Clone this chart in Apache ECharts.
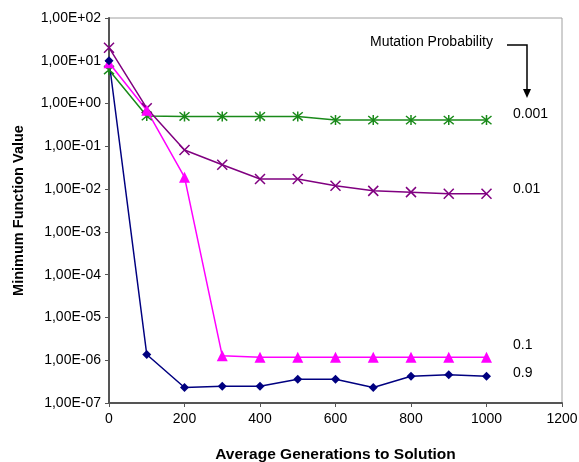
<!DOCTYPE html>
<html>
<head>
<meta charset="utf-8">
<script src="https://cdn.jsdelivr.net/npm/echarts@6/dist/echarts.min.js"></script>
<style>
  html, body { margin: 0; padding: 0; background: #fff; }
  #chart { width: 579px; height: 462px; }
</style>
</head>
<body>
<div id="chart"></div>
<script>
// generations (x)
var generations = [0, 100, 200, 300, 400, 500, 600, 700, 800, 900, 1000];

// minimum function value per mutation probability
var p0001 = [6.1, 0.51, 0.5, 0.5, 0.5, 0.5, 0.41, 0.41, 0.41, 0.41, 0.41];
var p001 = [20.2, 0.78, 0.082, 0.037, 0.0173, 0.0173, 0.012, 0.0091, 0.0085, 0.0078, 0.0078];
var p01 = [9, 0.7, 0.019, 1.27e-6, 1.17e-6, 1.17e-6, 1.17e-6, 1.17e-6, 1.17e-6, 1.17e-6, 1.17e-6];
var p09 = [10, 1.36e-6, 2.3e-7, 2.45e-7, 2.45e-7, 3.6e-7, 3.6e-7, 2.3e-7, 4.2e-7, 4.6e-7, 4.2e-7];

var xTicks = [0, 200, 400, 600, 800, 1000, 1200];

function pairs(ys) {
  return generations.map(function (g, i) { return [g, ys[i]]; });
}

function sciLabel(v) {
  var e = Math.round(Math.log10(v));
  var s = e < 0 ? '-' : '+';
  var a = Math.abs(e);
  return '1,00E' + s + (a < 10 ? '0' : '') + a;
}

var FONT = '"Liberation Sans", Arial, sans-serif';
var xMark = 'path://M0,0L10,10M10,0L0,10';
var starMark = 'path://M0,0L10,10M10,0L0,10M5,-1L5,11';

var chart = echarts.init(document.getElementById('chart'));
chart.setOption({
  animation: false,
  backgroundColor: '#fff',
  textStyle: { fontFamily: FONT },
  grid: {
    left: 109, right: 17, top: 18, bottom: 59,
    outerBoundsMode: 'none', containLabel: false,
    show: true, borderColor: '#a0a0a0', borderWidth: 1
  },
  xAxis: {
    type: 'value', min: 0, max: 1200, interval: 200,
    name: 'Average Generations to Solution',
    nameLocation: 'middle', nameGap: 44,
    nameTextStyle: { fontSize: 15.5, fontWeight: 'bold', color: '#000', fontFamily: FONT },
    axisLine: { show: true, lineStyle: { color: '#555', width: 2 } },
    axisTick: { show: true, length: 4, lineStyle: { color: '#555' } },
    axisLabel: { fontSize: 14, color: '#000', margin: 9, fontFamily: FONT,
      formatter: function (v) { return xTicks.indexOf(v) >= 0 ? String(v) : ''; } },
    splitLine: { show: false }
  },
  yAxis: {
    type: 'log', logBase: 10, min: 1e-7, max: 1e2,
    name: 'Minimum Function Value',
    nameLocation: 'middle', nameGap: 83,
    nameTextStyle: { fontSize: 14.5, fontWeight: 'bold', color: '#000', fontFamily: FONT },
    axisLine: { show: true, lineStyle: { color: '#555', width: 2 } },
    axisTick: { show: true, length: 4, lineStyle: { color: '#555' } },
    axisLabel: { fontSize: 14, color: '#000', margin: 8, fontFamily: FONT, formatter: sciLabel },
    splitLine: { show: false }
  },
  series: [
    {
      name: '0.001', type: 'line', data: pairs(p0001),
      symbol: starMark, symbolSize: 10,
      lineStyle: { color: '#1a8a1a', width: 1.5 },
      itemStyle: { color: '#1a8a1a', borderColor: '#1a8a1a', borderWidth: 1.5 }
    },
    {
      name: '0.01', type: 'line', data: pairs(p001),
      symbol: xMark, symbolSize: 10,
      lineStyle: { color: '#800080', width: 1.5 },
      itemStyle: { color: '#800080', borderColor: '#800080', borderWidth: 1.5 }
    },
    {
      name: '0.1', type: 'line', data: pairs(p01),
      symbol: 'triangle', symbolSize: 11,
      lineStyle: { color: '#ff00ff', width: 1.5 },
      itemStyle: { color: '#ff00ff' }
    },
    {
      name: '0.9', type: 'line', data: pairs(p09),
      symbol: 'diamond', symbolSize: 9,
      lineStyle: { color: '#000080', width: 1.5 },
      itemStyle: { color: '#000080' }
    }
  ],
  graphic: [
    { type: 'text', left: 513, top: 107, style: { text: '0.001', font: '14px ' + FONT, fill: '#000' } },
    { type: 'text', left: 513, top: 182, style: { text: '0.01', font: '14px ' + FONT, fill: '#000' } },
    { type: 'text', left: 513, top: 338, style: { text: '0.1', font: '14px ' + FONT, fill: '#000' } },
    { type: 'text', left: 513, top: 366, style: { text: '0.9', font: '14px ' + FONT, fill: '#000' } },
    { type: 'text', left: 370, top: 35, style: { text: 'Mutation Probability', font: '14px ' + FONT, fill: '#000' } },
    { type: 'polyline', shape: { points: [[507, 45], [527, 45], [527, 90]] },
      style: { stroke: '#000', lineWidth: 1.5, fill: null } },
    { type: 'polygon', shape: { points: [[523, 89], [531, 89], [527, 98]] },
      style: { fill: '#000' } }
  ]
});
</script>
</body>
</html>
